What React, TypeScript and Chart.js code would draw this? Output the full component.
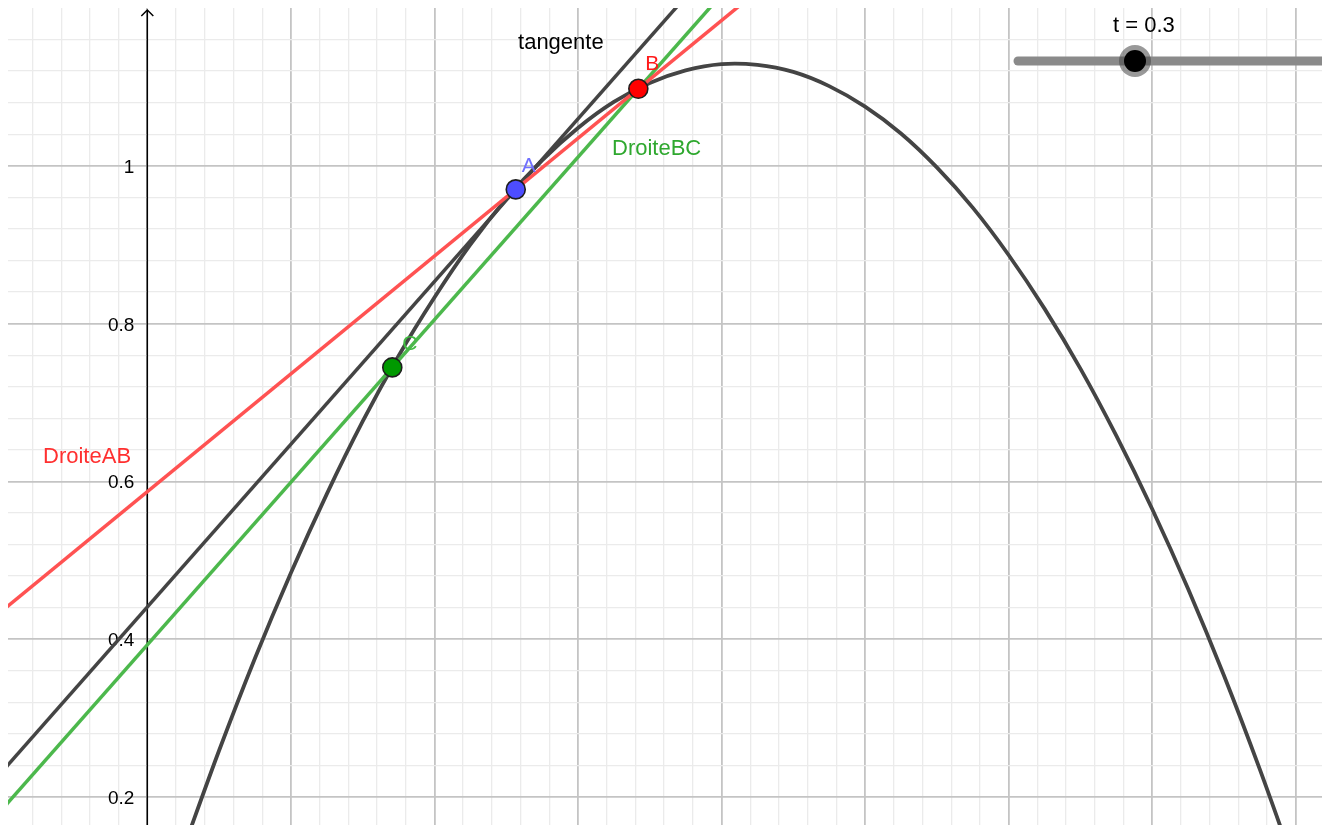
import React, { useEffect, useRef } from 'react';
import { Chart, registerables } from 'chart.js';

Chart.register(...registerables);

// ---- view window (data units) ----
const xMin = -0.1941;
const xMax = 1.6366;
const yMin = 0.1646;
const yMax = 1.2;

// ---- curve f ----
const curveX = [0.05, 0.1, 0.15, 0.2, 0.25, 0.3, 0.35, 0.4, 0.45, 0.5, 0.55, 0.6, 0.65, 0.7, 0.75, 0.8, 0.85, 0.9, 0.95, 1.0, 1.05, 1.1, 1.15, 1.2, 1.25, 1.3, 1.35, 1.4, 1.45, 1.5, 1.55, 1.6];
const curveY = [0.134, 0.259, 0.376, 0.484, 0.584, 0.676, 0.759, 0.833, 0.9, 0.958, 1.007, 1.048, 1.081, 1.105, 1.121, 1.129, 1.128, 1.119, 1.101, 1.075, 1.041, 0.998, 0.947, 0.887, 0.819, 0.743, 0.658, 0.565, 0.464, 0.354, 0.235, 0.108];

// ---- points ----
const pointNames = ['A', 'B', 'C'];
const pointX = [0.5133, 0.6841, 0.3413];
const pointY = [0.9701, 1.0976, 0.7445];

// ---- straight lines (two points each, beyond the window) ----
const tangentX = [-0.25, 0.8];
const tangentY = [0.1831, 1.2657];
const lineABX = [-0.25, 0.9];
const lineABY = [0.4003, 1.2588];
const lineBCX = [-0.25, 0.8];
const lineBCY = [0.1355, 1.217];

// ---- axis tick labels ----
const yTickValues = [0.2, 0.4, 0.6, 0.8, 1];
const yTickLabels = ['0.2', '0.4', '0.6', '0.8', '1'];

// ---- object labels ----
const lineLabelTexts = ['tangente', 'DroiteBC', 'DroiteAB'];
const lineLabelX = [0.5165, 0.6474, -0.1453];
const lineLabelY = [1.1479, 1.0136, 0.6232];

// ---- slider ----
const sliderName = 't';
const sliderValue = 0.3;

const FONT = '"Liberation Sans", Arial, sans-serif';

const xGrid: number[] = [];
for (let i = Math.ceil(xMin / 0.04); i * 0.04 < xMax; i++) xGrid.push(+(i * 0.04).toFixed(4));
const yGrid: number[] = [];
for (let i = Math.ceil(yMin / 0.04); i * 0.04 < yMax - 1e-6; i++) yGrid.push(+(i * 0.04).toFixed(4));

const isMajor = (v: number) => Math.abs(v / 0.2 - Math.round(v / 0.2)) < 1e-6;

const toXY = (xs: number[], ys: number[]) => xs.map((x, i) => ({ x, y: ys[i] }));

const overlayPlugin = {
  id: 'geoOverlay',
  beforeDatasetsDraw(chart: any) {
    const { ctx, scales, chartArea } = chart;
    const xs = scales.x;
    const ys = scales.y;
    const ax = xs.getPixelForValue(0);
    ctx.save();
    // y axis
    ctx.strokeStyle = '#000';
    ctx.lineWidth = 1.5;
    ctx.beginPath();
    ctx.moveTo(ax, chartArea.bottom + 2);
    ctx.lineTo(ax, chartArea.top + 2);
    ctx.stroke();
    // arrow
    ctx.beginPath();
    ctx.moveTo(ax - 6, chartArea.top + 8);
    ctx.lineTo(ax, chartArea.top + 2);
    ctx.lineTo(ax + 6, chartArea.top + 8);
    ctx.stroke();
    // tick labels
    ctx.fillStyle = '#000';
    ctx.font = `19px ${FONT}`;
    ctx.textAlign = 'right';
    ctx.textBaseline = 'alphabetic';
    yTickValues.forEach((v, i) => {
      ctx.fillText(yTickLabels[i], ax - 13, ys.getPixelForValue(v) + 7);
    });
    ctx.restore();
  },
  afterDatasetsDraw(chart: any) {
    const { ctx, scales, chartArea } = chart;
    const xs = scales.x;
    const ys = scales.y;
    ctx.save();
    ctx.textAlign = 'left';
    ctx.textBaseline = 'alphabetic';
    // line labels
    const lineColors = ['#000000', '#2fa82f', '#ff3030'];
    ctx.font = `22px ${FONT}`;
    lineLabelTexts.forEach((t, i) => {
      ctx.fillStyle = lineColors[i];
      ctx.fillText(t, xs.getPixelForValue(lineLabelX[i]), ys.getPixelForValue(lineLabelY[i]));
    });
    // point labels
    const labelColors = ['#7070ff', '#ff1a1a', '#40bb40'];
    const offs = [[6, -17], [7, -18.5], [10, -17]];
    ctx.font = `21px ${FONT}`;
    pointNames.forEach((n, i) => {
      ctx.fillStyle = labelColors[i];
      ctx.fillText(n, xs.getPixelForValue(pointX[i]) + offs[i][0], ys.getPixelForValue(pointY[i]) + offs[i][1]);
    });
    // slider (screen-fixed UI element)
    const trackL = chartArea.right - 304;
    const trackY = chartArea.top + 53;
    ctx.strokeStyle = '#8a8a8a';
    ctx.lineWidth = 9;
    ctx.lineCap = 'round';
    ctx.beginPath();
    ctx.moveTo(trackL, trackY);
    ctx.lineTo(chartArea.right + 20, trackY);
    ctx.stroke();
    const knobX = chartArea.right - 187;
    ctx.fillStyle = 'rgba(70,70,70,0.55)';
    ctx.beginPath();
    ctx.arc(knobX, trackY, 16, 0, Math.PI * 2);
    ctx.fill();
    ctx.fillStyle = '#000';
    ctx.beginPath();
    ctx.arc(knobX, trackY, 11, 0, Math.PI * 2);
    ctx.fill();
    ctx.font = `22px ${FONT}`;
    ctx.fillStyle = '#000';
    ctx.fillText(`${sliderName} = ${sliderValue}`, chartArea.right - 209, chartArea.top + 24);
    ctx.restore();
  },
};

export default function App() {
  const ref = useRef<HTMLCanvasElement>(null);
  useEffect(() => {
    const lineDs = (label: string, data: any[], color: string) => ({
      label,
      data,
      showLine: true,
      borderColor: color,
      borderWidth: 3.5,
      pointRadius: 0,
      pointHoverRadius: 0,
      tension: 0,
    });
    const pointDs = (i: number, fill: string) => ({
      label: pointNames[i],
      data: [{ x: pointX[i], y: pointY[i] }],
      showLine: false,
      pointRadius: 9.5,
      pointBackgroundColor: fill,
      pointBorderColor: '#1e1e1e',
      pointBorderWidth: 1.6,
    });
    const chart = new Chart(ref.current!, {
      type: 'scatter',
      data: {
        datasets: [
          pointDs(0, '#4d4dff'),
          pointDs(1, '#ff0000'),
          pointDs(2, '#009900'),
          lineDs('DroiteAB', toXY(lineABX, lineABY), '#ff5252'),
          lineDs('DroiteBC', toXY(lineBCX, lineBCY), '#4cb84c'),
          lineDs('tangente', toXY(tangentX, tangentY), '#444444'),
          { ...lineDs('f', toXY(curveX, curveY), '#444444'), tension: 0.3, borderWidth: 3.8 },
        ] as any,
      },
      options: {
        responsive: false,
        animation: false,
        layout: { padding: 0, autoPadding: false },
        elements: { line: { capBezierPoints: false } },
        plugins: { legend: { display: false }, tooltip: { enabled: false } },
        events: [],
        scales: {
          x: {
            type: 'linear',
            min: xMin,
            max: xMax,
            afterBuildTicks: (scale: any) => {
              scale.ticks = xGrid.map((v) => ({ value: v }));
            },
            ticks: { display: false },
            border: { display: false },
            grid: {
              drawTicks: false,
              color: (c: any) => (isMajor(c.tick.value) ? '#c4c4c4' : '#ebebeb'),
              lineWidth: (c: any) => (isMajor(c.tick.value) ? 1.8 : 1.3),
            },
          },
          y: {
            type: 'linear',
            min: yMin,
            max: yMax,
            afterBuildTicks: (scale: any) => {
              scale.ticks = yGrid.map((v) => ({ value: v }));
            },
            ticks: { display: false },
            border: { display: false },
            grid: {
              drawTicks: false,
              color: (c: any) => (isMajor(c.tick.value) ? '#c4c4c4' : '#ebebeb'),
              lineWidth: (c: any) => (isMajor(c.tick.value) ? 1.8 : 1.3),
            },
          },
        },
      },
      plugins: [overlayPlugin],
    });
    return () => chart.destroy();
  }, []);
  return (
    <div style={{ position: 'fixed', left: 8, top: 8, width: 1314, height: 817, background: '#fff' }}>
      <canvas ref={ref} width={1314} height={817} style={{ width: 1314, height: 817, display: 'block' }} />
    </div>
  );
}
